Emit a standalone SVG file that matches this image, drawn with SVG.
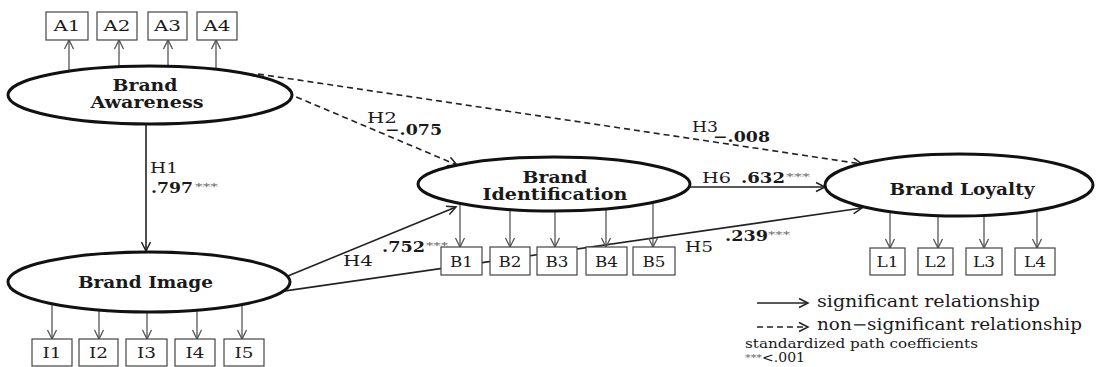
<svg xmlns="http://www.w3.org/2000/svg" width="1096" height="367" viewBox="0 0 1096 367">
<style>
text{font-family:"DejaVu Serif","Liberation Serif",serif;fill:#1a1a1a}
.lat{fill:#fff;stroke:#111;stroke-width:3}
.box{fill:#fff;stroke:#444;stroke-width:1.2}
.bt{font-size:14px;text-anchor:middle}
.lt{font-size:16px;font-weight:bold;text-anchor:middle}
.path{stroke:#222;stroke-width:1.6;fill:none}
.dash{stroke-dasharray:6,4}
.meas{stroke:#555;stroke-width:1.3;fill:none}
.hl{font-size:15px}
.num{font-size:15px;font-weight:bold}
.sup{font-size:10px;fill:#666}
.leg{font-size:16px}
.small{font-size:12.5px}
</style>
<defs>
<marker id="ah" markerUnits="userSpaceOnUse" markerWidth="12" markerHeight="12" refX="10" refY="5" orient="auto" overflow="visible">
<path d="M1,0.5 L10,5 L1,9.5" fill="none" stroke="#222" stroke-width="1.5"/>
</marker>
<marker id="ahg" markerUnits="userSpaceOnUse" markerWidth="12" markerHeight="12" refX="10" refY="5" orient="auto" overflow="visible">
<path d="M1,0.5 L10,5 L1,9.5" fill="none" stroke="#555" stroke-width="1.3"/>
</marker>
</defs>
<g id="connectors">
<line class="path" x1="146" y1="124" x2="146" y2="251" marker-end="url(#ah)"/>
<line class="path dash" x1="287" y1="93" x2="457" y2="165" marker-end="url(#ah)"/>
<line class="path dash" x1="258" y1="74" x2="862" y2="164" marker-end="url(#ah)"/>
<line class="path" x1="283" y1="278" x2="456" y2="207" marker-end="url(#ah)"/>
<line class="path" x1="243" y1="297" x2="862" y2="208" marker-end="url(#ah)"/>
<line class="path" x1="690" y1="187" x2="825" y2="187" marker-end="url(#ah)"/>
<line class="meas" x1="69" y1="75" x2="69" y2="40" marker-end="url(#ahg)"/>
<line class="meas" x1="119" y1="75" x2="119" y2="40" marker-end="url(#ahg)"/>
<line class="meas" x1="168" y1="75" x2="168" y2="40" marker-end="url(#ahg)"/>
<line class="meas" x1="216" y1="75" x2="216" y2="40" marker-end="url(#ahg)"/>
<line class="meas" x1="52" y1="300" x2="52" y2="339" marker-end="url(#ahg)"/>
<line class="meas" x1="99" y1="300" x2="99" y2="339" marker-end="url(#ahg)"/>
<line class="meas" x1="147" y1="300" x2="147" y2="339" marker-end="url(#ahg)"/>
<line class="meas" x1="197" y1="300" x2="197" y2="339" marker-end="url(#ahg)"/>
<line class="meas" x1="242" y1="300" x2="242" y2="339" marker-end="url(#ahg)"/>
<line class="meas" x1="460" y1="200" x2="460" y2="247" marker-end="url(#ahg)"/>
<line class="meas" x1="510" y1="200" x2="510" y2="247" marker-end="url(#ahg)"/>
<line class="meas" x1="555" y1="200" x2="555" y2="247" marker-end="url(#ahg)"/>
<line class="meas" x1="606" y1="200" x2="606" y2="247" marker-end="url(#ahg)"/>
<line class="meas" x1="653" y1="200" x2="653" y2="247" marker-end="url(#ahg)"/>
<line class="meas" x1="890" y1="200" x2="890" y2="248" marker-end="url(#ahg)"/>
<line class="meas" x1="938" y1="200" x2="938" y2="248" marker-end="url(#ahg)"/>
<line class="meas" x1="984" y1="200" x2="984" y2="248" marker-end="url(#ahg)"/>
<line class="meas" x1="1037" y1="200" x2="1037" y2="248" marker-end="url(#ahg)"/>
<line class="path" x1="757" y1="303" x2="808" y2="303" marker-end="url(#ah)"/>
<line class="path dash" x1="757" y1="327" x2="808" y2="327" marker-end="url(#ah)"/>
</g>
<g id="brand-awareness">
<ellipse class="lat" cx="150" cy="95" rx="142" ry="29"/>
<text class="lt" x="145" y="91" textLength="65" lengthAdjust="spacingAndGlyphs">Brand</text>
<text class="lt" x="147" y="108" textLength="113" lengthAdjust="spacingAndGlyphs">Awareness</text>
</g>
<g id="brand-image">
<ellipse class="lat" cx="149" cy="282" rx="141" ry="30"/>
<text class="lt" x="145.5" y="288" textLength="135" lengthAdjust="spacingAndGlyphs">Brand Image</text>
</g>
<g id="brand-identification">
<ellipse class="lat" cx="554" cy="184" rx="136" ry="27"/>
<text class="lt" x="555" y="183" textLength="65" lengthAdjust="spacingAndGlyphs">Brand</text>
<text class="lt" x="555" y="200" textLength="145" lengthAdjust="spacingAndGlyphs">Identification</text>
</g>
<g id="brand-loyalty">
<ellipse class="lat" cx="959" cy="185" rx="134" ry="31"/>
<text class="lt" x="962" y="195" textLength="145" lengthAdjust="spacingAndGlyphs">Brand Loyalty</text>
</g>
<g id="A1"><rect class="box" x="46" y="12" width="42" height="28"/><text class="bt" x="67" y="31" textLength="27" lengthAdjust="spacingAndGlyphs">A1</text></g>
<g id="A2"><rect class="box" x="97" y="12" width="40" height="28"/><text class="bt" x="117" y="31" textLength="27" lengthAdjust="spacingAndGlyphs">A2</text></g>
<g id="A3"><rect class="box" x="148" y="12" width="39" height="28"/><text class="bt" x="167.5" y="31" textLength="27" lengthAdjust="spacingAndGlyphs">A3</text></g>
<g id="A4"><rect class="box" x="197" y="12" width="40" height="28"/><text class="bt" x="217" y="31" textLength="27" lengthAdjust="spacingAndGlyphs">A4</text></g>
<g id="B1"><rect class="box" x="441" y="247" width="41" height="28"/><text class="bt" x="461.5" y="267" textLength="23" lengthAdjust="spacingAndGlyphs">B1</text></g>
<g id="B2"><rect class="box" x="490" y="247" width="40" height="28"/><text class="bt" x="510" y="267" textLength="23" lengthAdjust="spacingAndGlyphs">B2</text></g>
<g id="B3"><rect class="box" x="537" y="247" width="40" height="28"/><text class="bt" x="557" y="267" textLength="23" lengthAdjust="spacingAndGlyphs">B3</text></g>
<g id="B4"><rect class="box" x="586" y="247" width="41" height="28"/><text class="bt" x="606.5" y="267" textLength="23" lengthAdjust="spacingAndGlyphs">B4</text></g>
<g id="B5"><rect class="box" x="633" y="247" width="42" height="28"/><text class="bt" x="654" y="267" textLength="23" lengthAdjust="spacingAndGlyphs">B5</text></g>
<g id="I1"><rect class="box" x="32" y="339" width="40" height="27"/><text class="bt" x="52" y="358" textLength="19" lengthAdjust="spacingAndGlyphs">I1</text></g>
<g id="I2"><rect class="box" x="79" y="339" width="39" height="27"/><text class="bt" x="98.5" y="358" textLength="19" lengthAdjust="spacingAndGlyphs">I2</text></g>
<g id="I3"><rect class="box" x="126" y="339" width="41" height="27"/><text class="bt" x="146.5" y="358" textLength="19" lengthAdjust="spacingAndGlyphs">I3</text></g>
<g id="I4"><rect class="box" x="175" y="339" width="40" height="27"/><text class="bt" x="195" y="358" textLength="19" lengthAdjust="spacingAndGlyphs">I4</text></g>
<g id="I5"><rect class="box" x="224" y="339" width="40" height="27"/><text class="bt" x="244" y="358" textLength="19" lengthAdjust="spacingAndGlyphs">I5</text></g>
<g id="L1"><rect class="box" x="870" y="248" width="35" height="27"/><text class="bt" x="887.5" y="267" textLength="22" lengthAdjust="spacingAndGlyphs">L1</text></g>
<g id="L2"><rect class="box" x="918" y="248" width="35" height="27"/><text class="bt" x="935.5" y="267" textLength="22" lengthAdjust="spacingAndGlyphs">L2</text></g>
<g id="L3"><rect class="box" x="966" y="248" width="36" height="27"/><text class="bt" x="984" y="267" textLength="22" lengthAdjust="spacingAndGlyphs">L3</text></g>
<g id="L4"><rect class="box" x="1015" y="248" width="40" height="27"/><text class="bt" x="1035" y="267" textLength="22" lengthAdjust="spacingAndGlyphs">L4</text></g>
<g id="labels">
<text class="hl" x="150" y="173" textLength="28" lengthAdjust="spacingAndGlyphs">H1</text>
<text class="num" x="151" y="193" textLength="42" lengthAdjust="spacingAndGlyphs">.797</text>
<text class="sup" x="195" y="190" textLength="23" lengthAdjust="spacingAndGlyphs">***</text>
<text class="hl" x="367" y="123" textLength="30" lengthAdjust="spacingAndGlyphs">H2</text>
<text class="num" x="385" y="135" textLength="57" lengthAdjust="spacingAndGlyphs">−.075</text>
<text class="hl" x="692" y="132" textLength="26" lengthAdjust="spacingAndGlyphs">H3</text>
<text class="num" x="713" y="142" textLength="57" lengthAdjust="spacingAndGlyphs">−.008</text>
<text class="hl" x="343" y="266" textLength="30" lengthAdjust="spacingAndGlyphs">H4</text>
<text class="num" x="382" y="252" textLength="43" lengthAdjust="spacingAndGlyphs">.752</text>
<text class="sup" x="426" y="249" textLength="22" lengthAdjust="spacingAndGlyphs">***</text>
<text class="hl" x="685" y="252" textLength="28" lengthAdjust="spacingAndGlyphs">H5</text>
<text class="num" x="725" y="241" textLength="43" lengthAdjust="spacingAndGlyphs">.239</text>
<text class="sup" x="768" y="238" textLength="22" lengthAdjust="spacingAndGlyphs">***</text>
<text class="hl" x="702" y="183" textLength="29" lengthAdjust="spacingAndGlyphs">H6</text>
<text class="num" x="741" y="183" textLength="44" lengthAdjust="spacingAndGlyphs">.632</text>
<text class="sup" x="786" y="180" textLength="24" lengthAdjust="spacingAndGlyphs">***</text>
</g>
<g id="legend">
<text class="leg" x="817" y="307" textLength="223" lengthAdjust="spacingAndGlyphs">significant relationship</text>
<text class="leg" x="817" y="330" textLength="265" lengthAdjust="spacingAndGlyphs">non−significant relationship</text>
<text class="small" x="745" y="348" textLength="233" lengthAdjust="spacingAndGlyphs">standardized path coefficients</text>
<text class="sup" x="745" y="361" textLength="17" lengthAdjust="spacingAndGlyphs">***</text>
<text class="small" x="762" y="362" textLength="43" lengthAdjust="spacingAndGlyphs">&lt;.001</text>
</g>
</svg>
